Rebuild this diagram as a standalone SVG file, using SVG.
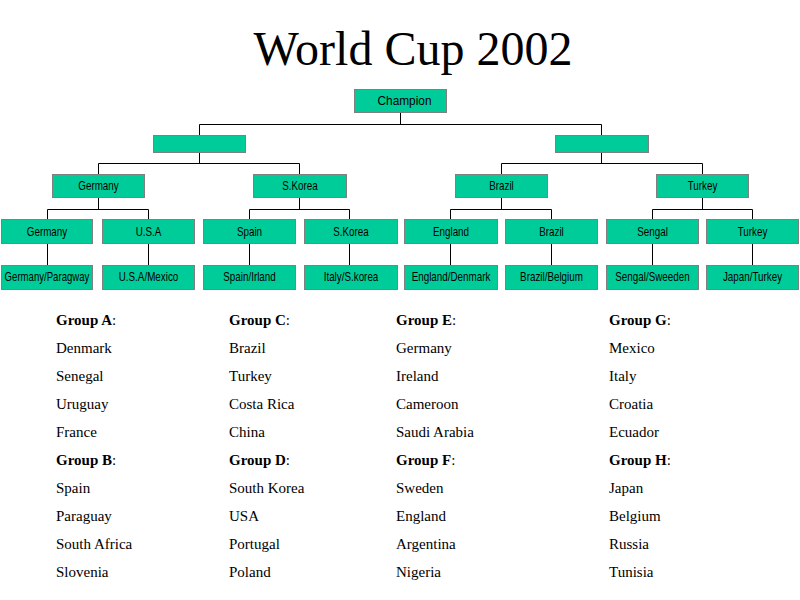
<svg xmlns="http://www.w3.org/2000/svg" width="800" height="600" viewBox="0 0 800 600">
<style>
.b{fill:#00CC99;stroke:#808080;stroke-width:1}
.l{font-family:"Liberation Sans",Arial,sans-serif;font-size:12px;fill:#000;text-anchor:middle}
.c{stroke:#000;stroke-width:1;fill:none}
.t{font-family:"Liberation Serif","Times New Roman",serif;font-size:15px;fill:#000}
.h{font-weight:bold}
</style>
<rect width="800" height="600" fill="#fff"/>
<text x="413" y="65" font-family="Liberation Serif, Times New Roman, serif" font-size="48" text-anchor="middle">World Cup 2002</text>
<g id="connectors">
<path class="c" d="M400.5 113V124.5M199.5 124.5H601.5M199.5 124.5V135M601.5 124.5V135"/>
<path class="c" d="M199.5 152V163.5M98.5 163.5H299.5M98.5 163.5V174M299.5 163.5V174"/>
<path class="c" d="M601.5 152V163.5M501.5 163.5H702.5M501.5 163.5V174M702.5 163.5V174"/>
<path class="c" d="M98.5 198V209.5M47.5 209.5H148.5M47.5 209.5V219M148.5 209.5V219"/>
<path class="c" d="M299.5 198V209.5M249.5 209.5H349.5M249.5 209.5V219M349.5 209.5V219"/>
<path class="c" d="M501.5 198V209.5M450.5 209.5H551.5M450.5 209.5V219M551.5 209.5V219"/>
<path class="c" d="M702.5 198V209.5M652.5 209.5H752.5M652.5 209.5V219M752.5 209.5V219"/>
<path class="c" d="M47.5 243V265M148.5 243V265M249.5 243V265M349.5 243V265M450.5 243V265M551.5 243V265M652.5 243V265M752.5 243V265"/>
</g>
<g id="champion"><rect class="b" x="354.5" y="89.5" width="92" height="23"/><text class="l" x="404.5" y="105" textLength="54" lengthAdjust="spacingAndGlyphs">Champion</text></g>
<g id="semi-left"><rect class="b" x="153.5" y="135.5" width="92" height="17"/></g>
<g id="semi-right"><rect class="b" x="555.5" y="135.5" width="93" height="17"/></g>
<g id="qf-germany"><rect class="b" x="52.5" y="174.5" width="92" height="23"/><text class="l" transform="translate(98.5 190) scale(0.82 1)">Germany</text></g>
<g id="qf-skorea"><rect class="b" x="253.5" y="174.5" width="93" height="23"/><text class="l" transform="translate(300 190) scale(0.82 1)">S.Korea</text></g>
<g id="qf-brazil"><rect class="b" x="455.5" y="174.5" width="92" height="23"/><text class="l" transform="translate(501.5 190) scale(0.82 1)">Brazil</text></g>
<g id="qf-turkey"><rect class="b" x="656.5" y="174.5" width="92" height="23"/><text class="l" transform="translate(702.5 190) scale(0.82 1)">Turkey</text></g>
<g id="r16-germany"><rect class="b" x="1.5" y="219.5" width="91" height="24"/><text class="l" transform="translate(47 236) scale(0.82 1)">Germany</text></g>
<g id="r16-usa"><rect class="b" x="102.5" y="219.5" width="92" height="24"/><text class="l" transform="translate(148.5 236) scale(0.82 1)">U.S.A</text></g>
<g id="r16-spain"><rect class="b" x="203.5" y="219.5" width="92" height="24"/><text class="l" transform="translate(249.5 236) scale(0.82 1)">Spain</text></g>
<g id="r16-skorea"><rect class="b" x="304.5" y="219.5" width="93" height="24"/><text class="l" transform="translate(351 236) scale(0.82 1)">S.Korea</text></g>
<g id="r16-england"><rect class="b" x="404.5" y="219.5" width="93" height="24"/><text class="l" transform="translate(451 236) scale(0.82 1)">England</text></g>
<g id="r16-brazil"><rect class="b" x="505.5" y="219.5" width="92" height="24"/><text class="l" transform="translate(551.5 236) scale(0.82 1)">Brazil</text></g>
<g id="r16-sengal"><rect class="b" x="606.5" y="219.5" width="92" height="24"/><text class="l" transform="translate(652.5 236) scale(0.82 1)">Sengal</text></g>
<g id="r16-turkey"><rect class="b" x="706.5" y="219.5" width="92" height="24"/><text class="l" transform="translate(752.5 236) scale(0.82 1)">Turkey</text></g>
<g id="m-ger-par"><rect class="b" x="1.5" y="265.5" width="91" height="24"/><text class="l" transform="translate(47 281) scale(0.8 1)">Germany/Paragway</text></g>
<g id="m-usa-mex"><rect class="b" x="102.5" y="265.5" width="92" height="24"/><text class="l" transform="translate(148.5 281) scale(0.82 1)">U.S.A/Mexico</text></g>
<g id="m-spa-irl"><rect class="b" x="203.5" y="265.5" width="92" height="24"/><text class="l" transform="translate(249.5 281) scale(0.82 1)">Spain/Irland</text></g>
<g id="m-ita-kor"><rect class="b" x="304.5" y="265.5" width="93" height="24"/><text class="l" transform="translate(351 281) scale(0.82 1)">Italy/S.korea</text></g>
<g id="m-eng-den"><rect class="b" x="404.5" y="265.5" width="93" height="24"/><text class="l" transform="translate(451 281) scale(0.82 1)">England/Denmark</text></g>
<g id="m-bra-bel"><rect class="b" x="505.5" y="265.5" width="92" height="24"/><text class="l" transform="translate(551.5 281) scale(0.82 1)">Brazil/Belgium</text></g>
<g id="m-sen-swe"><rect class="b" x="606.5" y="265.5" width="92" height="24"/><text class="l" transform="translate(652.5 281) scale(0.82 1)">Sengal/Sweeden</text></g>
<g id="m-jap-tur"><rect class="b" x="706.5" y="265.5" width="92" height="24"/><text class="l" transform="translate(752.5 281) scale(0.82 1)">Japan/Turkey</text></g>
<g id="groups" class="t">
<text x="56" y="325"><tspan class="h">Group A</tspan>:</text>
<text x="56" y="353">Denmark</text><text x="56" y="381">Senegal</text><text x="56" y="409">Uruguay</text><text x="56" y="437">France</text>
<text x="56" y="465"><tspan class="h">Group B</tspan>:</text>
<text x="56" y="493">Spain</text><text x="56" y="521">Paraguay</text><text x="56" y="549">South Africa</text><text x="56" y="577">Slovenia</text>
<text x="229" y="325"><tspan class="h">Group C</tspan>:</text>
<text x="229" y="353">Brazil</text><text x="229" y="381">Turkey</text><text x="229" y="409">Costa Rica</text><text x="229" y="437">China</text>
<text x="229" y="465"><tspan class="h">Group D</tspan>:</text>
<text x="229" y="493">South Korea</text><text x="229" y="521">USA</text><text x="229" y="549">Portugal</text><text x="229" y="577">Poland</text>
<text x="396" y="325"><tspan class="h">Group E</tspan>:</text>
<text x="396" y="353">Germany</text><text x="396" y="381">Ireland</text><text x="396" y="409">Cameroon</text><text x="396" y="437">Saudi Arabia</text>
<text x="396" y="465"><tspan class="h">Group F</tspan>:</text>
<text x="396" y="493">Sweden</text><text x="396" y="521">England</text><text x="396" y="549">Argentina</text><text x="396" y="577">Nigeria</text>
<text x="609" y="325"><tspan class="h">Group G</tspan>:</text>
<text x="609" y="353">Mexico</text><text x="609" y="381">Italy</text><text x="609" y="409">Croatia</text><text x="609" y="437">Ecuador</text>
<text x="609" y="465"><tspan class="h">Group H</tspan>:</text>
<text x="609" y="493">Japan</text><text x="609" y="521">Belgium</text><text x="609" y="549">Russia</text><text x="609" y="577">Tunisia</text>
</g>
</svg>
